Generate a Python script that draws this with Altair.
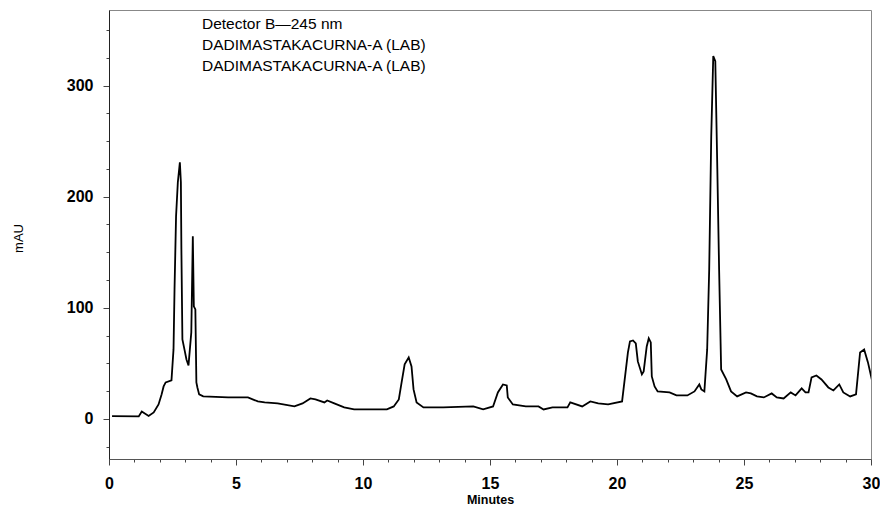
import altair as alt
import pandas as pd

# Retention time (minutes) and detector response (mAU)
minutes = [0.12, 1.17, 1.29, 1.56, 1.76, 1.95, 2.07, 2.15, 2.23, 2.46, 2.54, 2.58, 2.64,
           2.71, 2.79, 2.83, 2.85, 2.89, 2.97, 3.05, 3.13, 3.24, 3.30, 3.34, 3.40, 3.44,
           3.48, 3.55, 3.71, 4.69, 5.47, 5.86, 6.13, 6.64, 7.30, 7.62, 7.93, 8.13, 8.48,
           8.59, 8.87, 9.26, 9.65, 10.16, 10.94, 11.21, 11.41, 11.52, 11.64, 11.80, 11.91,
           11.99, 12.11, 12.38, 13.16, 14.34, 14.73, 15.12, 15.31, 15.51, 15.66, 15.70,
           15.90, 16.41, 16.91, 17.11, 17.46, 18.05, 18.16, 18.63, 18.95, 19.26, 19.65,
           20.20, 20.43, 20.51, 20.63, 20.74, 20.82, 20.98, 21.05, 21.17, 21.25, 21.33,
           21.37, 21.48, 21.60, 22.07, 22.34, 22.77, 23.05, 23.24, 23.32, 23.44, 23.55,
           23.63, 23.71, 23.79, 23.87, 23.95, 24.02, 24.10, 24.30, 24.49, 24.73, 25.08,
           25.27, 25.51, 25.78, 26.09, 26.29, 26.56, 26.84, 27.03, 27.27, 27.42, 27.54,
           27.66, 27.85, 28.05, 28.32, 28.52, 28.75, 28.91, 29.18, 29.41, 29.57, 29.73,
           29.88, 30.05]
mau = [2.5, 2.3, 6.8, 2.7, 5.9, 13.1, 22.1, 29.3, 32.9, 34.7, 62.6, 116.7, 182.4,
       213.0, 231.0, 213.0, 152.7, 71.6, 62.6, 53.6, 48.2, 77.9, 164.4, 101.4, 98.6, 32.9,
       28.4, 22.1, 20.3, 19.4, 19.4, 15.8, 14.9, 14.0, 11.3, 14.0, 18.5, 17.6, 14.9,
       16.7, 14.0, 10.4, 8.6, 8.6, 8.6, 11.3, 17.6, 32.9, 49.1, 55.4, 47.3,
       26.6, 14.9, 10.4, 10.4, 11.3, 8.6, 11.3, 23.9, 31.1, 30.2, 19.4,
       13.1, 11.3, 11.3, 8.6, 10.4, 10.4, 14.9, 11.3, 15.8, 14.0, 13.1,
       15.8, 59.9, 69.8, 70.7, 68.0, 51.8, 40.1, 42.8, 65.3, 72.5, 68.9,
       38.3, 29.3, 24.8, 23.9, 21.2, 21.2, 24.8, 31.1, 26.6, 24.8, 62.6,
       134.7, 254.5, 326.6, 322.0, 224.8, 134.7, 44.6, 35.6, 24.8, 20.3, 23.9,
       23.0, 20.3, 19.4, 23.0, 19.4, 18.5, 23.9, 21.2, 27.5, 23.9, 23.9,
       37.4, 39.2, 35.6, 28.4, 25.7, 31.1, 23.9, 20.3, 22.1, 59.9, 62.6,
       50.9, 33.8]

x_ticks = list(range(0, 31))
y_ticks = list(range(-25, 351, 25))
x_domain = [0, 30]
y_domain = [-36, 368]
notes = ["Detector B\u2014245 nm", "DADIMASTAKACURNA-A (LAB)", "DADIMASTAKACURNA-A (LAB)"]

df = pd.DataFrame({"minutes": minutes, "mau": mau})

font = "Liberation Sans"

x_axis = alt.Axis(
    values=x_ticks,
    labelExpr="datum.value % 5 === 0 ? datum.label : ''",
    tickSize={"condition": {"test": "datum.value % 5 === 0", "value": 6}, "value": 3},
    labelFont=font, labelFontSize=16, labelFontWeight="bold", labelColor="black",
    labelPadding=10, labelFlush=False, labelOverlap=False, labelAngle=0,
    grid=False, domainColor="#555", tickColor="#444",
    title="Minutes", titleFont=font, titleFontSize=12.5, titleFontWeight="bold",
    titleColor="black", titleX=381, titleY=40, titleBaseline="middle", titleAlign="center",
)
y_axis = alt.Axis(
    values=y_ticks,
    labelExpr="datum.value % 100 === 0 ? datum.label : ''",
    tickSize={"condition": {"test": "datum.value % 100 === 0", "value": 6}, "value": 3},
    labelFont=font, labelFontSize=16, labelFontWeight="bold", labelColor="black",
    labelPadding=10, labelFlush=False, labelOverlap=False,
    grid=False, domainColor="#222", tickColor="#444",
    title="mAU", titleFont=font, titleFontSize=13, titleFontWeight="normal",
    titleColor="black", titleX=-91, titleY=228, titleAngle=270,
    titleBaseline="middle", titleAlign="center",
)

line = alt.Chart(df).mark_line(color="black", strokeWidth=1.8, clip=True).encode(
    x=alt.X("minutes:Q", scale=alt.Scale(domain=x_domain, nice=False, zero=False), axis=x_axis),
    y=alt.Y("mau:Q", scale=alt.Scale(domain=y_domain, nice=False, zero=False), axis=y_axis),
)

text = alt.Chart(pd.DataFrame({"note": ["\n".join(notes)]})).mark_text(
    align="left", baseline="alphabetic", font=font, fontSize=15.5,
    lineBreak="\n", lineHeight=21, color="black",
).encode(
    text="note:N",
    x=alt.value(93),
    y=alt.value(19),
)

chart = alt.layer(line, text).properties(
    width=762, height=449,
    autosize=alt.AutoSizeParams(type="none"),
    padding={"left": 101, "top": 2, "right": 9, "bottom": 48},
).configure_view(stroke="#888", strokeWidth=1)

chart.save("out.html", embed_options={"renderer": "svg", "actions": False})
